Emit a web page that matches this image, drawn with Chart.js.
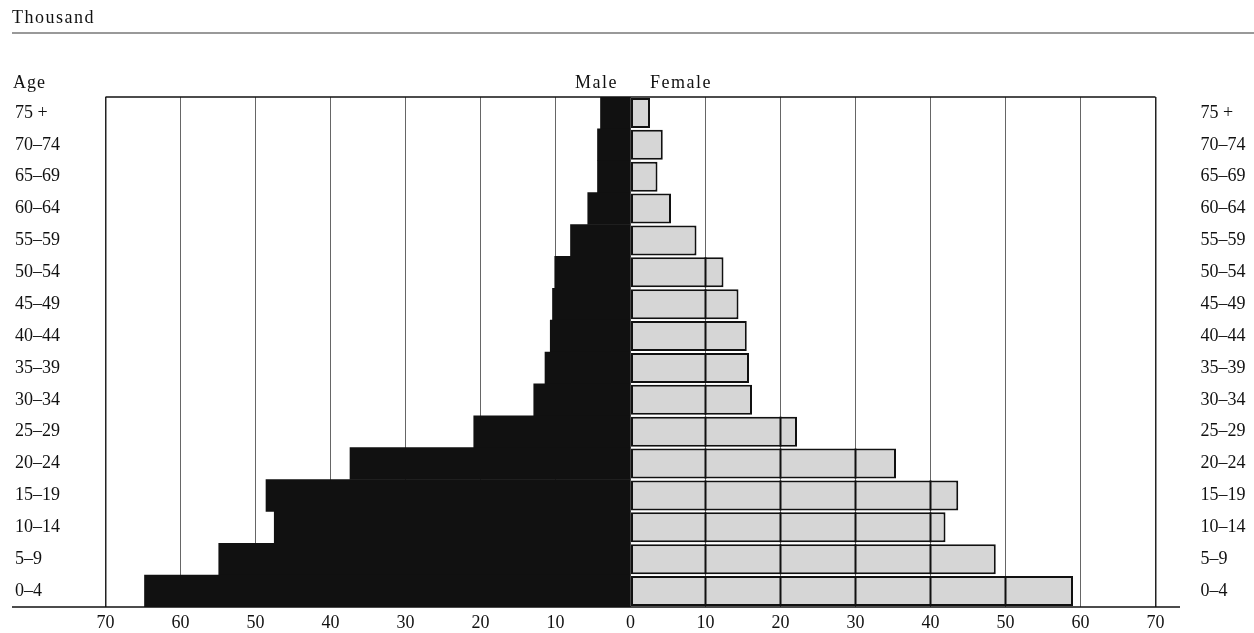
<!DOCTYPE html>
<html>
<head>
<meta charset="utf-8">
<script src="https://cdn.jsdelivr.net/npm/chart.js@4"></script>
<style>
  html, body { margin: 0; padding: 0; background: #fff; }
  #pyramid { display: block; }
</style>
</head>
<body>
<canvas id="pyramid" width="1254" height="633"></canvas>
<script>
// age groups, top to bottom
const ageGroups = ["75 +", "70–74", "65–69", "60–64", "55–59", "50–54", "45–49", "40–44",
                   "35–39", "30–34", "25–29", "20–24", "15–19", "10–14", "5–9", "0–4"];

// thousands
const maleValues = [4.0, 4.4, 4.4, 5.7, 8.0, 10.1, 10.4, 10.7, 11.4, 12.9, 20.9, 37.4, 48.6, 47.5, 54.9, 64.8];
const femaleValues = [2.6, 4.3, 3.6, 5.4, 8.8, 12.4, 14.4, 15.5, 15.8, 16.2, 22.2, 35.4, 43.7, 42.0, 48.7, 59.0];

const xTicks = [-70, -60, -50, -40, -30, -20, -10, 0, 10, 20, 30, 40, 50, 60, 70];

const serif = "'Liberation Serif', 'DejaVu Serif', serif";

// extra text and rules around the plot
const decor = {
  id: "decor",
  afterDatasetsDraw(chart) {
    // the female bars are cut by heavy lines at every 10 thousand
    const { ctx } = chart;
    const xs = chart.scales.x;
    const meta = chart.getDatasetMeta(1);
    ctx.save();
    ctx.strokeStyle = "#111";
    ctx.lineWidth = 2;
    meta.data.forEach((bar, i) => {
      const { y, height } = bar.getProps(["y", "height"], true);
      xTicks.filter(t => t > 0 && t < femaleValues[i]).forEach(t => {
        const px = xs.getPixelForValue(t);
        ctx.beginPath();
        ctx.moveTo(px, y - height / 2);
        ctx.lineTo(px, y + height / 2);
        ctx.stroke();
      });
    });
    ctx.restore();
  },
  afterDraw(chart) {
    const { ctx, chartArea } = chart;
    ctx.save();
    ctx.fillStyle = "#111";
    ctx.textBaseline = "middle";
    ctx.textAlign = "left";
    ctx.font = "18px " + serif;
    ctx.letterSpacing = "1.5px";
    ctx.fillText("Thousand", 12, 18);

    ctx.strokeStyle = "#777";
    ctx.lineWidth = 1.5;
    ctx.beginPath();
    ctx.moveTo(12, 33);
    ctx.lineTo(1254, 33);
    ctx.stroke();

    ctx.font = "18px " + serif;
    ctx.letterSpacing = "1px";
    ctx.fillText("Age", 13, 83);
    ctx.letterSpacing = "1.5px";
    ctx.textAlign = "right";
    ctx.fillText("Male", 618, 83);
    ctx.textAlign = "left";
    ctx.fillText("Female", 650, 83);
    ctx.letterSpacing = "0px";

    // top border of plot
    ctx.strokeStyle = "#111";
    ctx.lineWidth = 1.5;
    ctx.beginPath();
    ctx.moveTo(chartArea.left, chartArea.top);
    ctx.lineTo(chartArea.right, chartArea.top);
    ctx.stroke();

    // base line runs a little past the plot
    ctx.beginPath();
    ctx.moveTo(12, chartArea.bottom);
    ctx.lineTo(1180, chartArea.bottom);
    ctx.stroke();
    ctx.restore();
  }
};

new Chart(document.getElementById("pyramid"), {
  type: "bar",
  data: {
    labels: ageGroups,
    datasets: [
      {
        label: "Male",
        data: maleValues.map(v => -v),
        backgroundColor: "#111",
        borderWidth: 0,
        barPercentage: 1.0,
        categoryPercentage: 1.0
      },
      {
        label: "Female",
        data: femaleValues,
        backgroundColor: "#d6d6d6",
        borderColor: "#111",
        borderWidth: 2,
        borderSkipped: false,
        barPercentage: 0.94,
        categoryPercentage: 1.0
      }
    ]
  },
  options: {
    indexAxis: "y",
    responsive: false,
    animation: false,
    devicePixelRatio: 1,
    layout: { padding: { left: 15, right: 0, top: 97, bottom: 0 } },
    scales: {
      x: {
        type: "linear",
        stacked: true,
        min: -70,
        max: 70,
        afterBuildTicks: axis => { axis.ticks = xTicks.map(v => ({ value: v })); },
        afterFit: axis => { axis.height = 26; },
        ticks: {
          color: "#111",
          font: { family: serif, size: 18 },
          padding: 5,
          callback: v => Math.abs(v)
        },
        grid: {
          drawTicks: false,
          color: c => (Math.abs(c.tick.value) === 70 ? "#222" : "#666"),
          lineWidth: c => (Math.abs(c.tick.value) === 70 ? 1.5 : 1)
        },
        border: { display: false }
      },
      y: {
        type: "category",
        position: "left",
        stacked: true,
        afterFit: axis => { axis.width = 90.5; },
        ticks: {
          color: "#111",
          crossAlign: "far",
          padding: 2,
          font: { family: serif, size: 18 }
        },
        grid: { display: false, drawTicks: false },
        border: { display: false }
      },
      y2: {
        type: "category",
        position: "right",
        labels: ageGroups,
        afterFit: axis => { axis.width = 98.5; },
        ticks: {
          color: "#111",
          padding: 2,
          font: { family: serif, size: 18 }
        },
        // tick marks are not drawn, the length only pushes the labels out
        grid: { display: false, drawTicks: true, tickLength: 43 },
        border: { display: false }
      }
    },
    plugins: {
      legend: { display: false },
      tooltip: { enabled: false }
    }
  },
  plugins: [decor]
});
</script>
</body>
</html>
